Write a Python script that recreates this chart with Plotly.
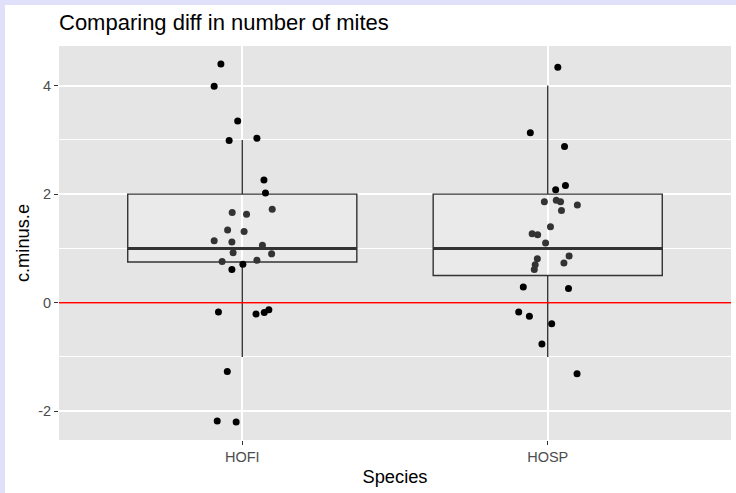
import plotly.graph_objects as go

# ---- data ----
species = ["HOFI", "HOSP"]
species_pos = [1, 2]

# boxplot statistics
box_q1 = [0.75, 0.5]
box_median = [1.0, 1.0]
box_q3 = [2.0, 2.0]
box_lower = [-1.0, -1.0]
box_upper = [3.0, 4.0]

# jittered points: horizontal jitter offset (data units) and value
hofi_jitter = [-0.070, -0.092, -0.015, -0.043, 0.048, 0.071, 0.076, 0.098, -0.033, 0.014,
               -0.048, 0.006, -0.092, -0.034, 0.066, -0.030, 0.096, -0.066, 0.002, 0.048,
               -0.034, -0.078, 0.045, 0.072, 0.087, -0.049, -0.082, -0.020]
hofi_values = [4.40, 3.99, 3.35, 2.99, 3.03, 2.26, 2.02, 1.72, 1.66, 1.63,
               1.34, 1.31, 1.14, 1.12, 1.06, 0.92, 0.90, 0.76, 0.71, 0.78,
               0.61, -0.17, -0.21, -0.18, -0.13, -1.27, -2.18, -2.20]
hosp_jitter = [0.033, -0.057, 0.055, 0.058, 0.026, -0.011, 0.028, 0.042, 0.097, 0.045,
               0.009, -0.051, -0.033, -0.007, -0.034, -0.041, -0.044, 0.070, 0.053, -0.080,
               0.068, -0.095, -0.060, 0.013, -0.019, 0.096]
hosp_values = [4.34, 3.13, 2.88, 2.16, 2.08, 1.86, 1.89, 1.86, 1.80, 1.70,
               1.40, 1.27, 1.25, 1.10, 0.81, 0.70, 0.61, 0.86, 0.73, 0.29,
               0.26, -0.17, -0.25, -0.39, -0.76, -1.31]

y_ticks = [-2, 0, 2, 4]
y_tick_labels = ["-2", "0", "2", "4"]

# ---- style ----
FONT = "Liberation Sans, Arial, Helvetica, sans-serif"
PANEL = "#e5e5e5"
BOX_W = 0.75
W, H = 736, 493
ML, MR, MT, MB = 59, 5, 46, 53
PW, PH = W - ML - MR, H - MT - MB

fig = go.Figure()

fig.add_trace(go.Box(
    x=species_pos, q1=box_q1, median=box_median, q3=box_q3,
    lowerfence=box_lower, upperfence=box_upper,
    orientation="v", width=BOX_W, whiskerwidth=0, boxpoints=False,
    fillcolor="rgba(255,255,255,0.2)", line=dict(color="#333333", width=1.4),
    hoverinfo="skip", showlegend=False,
))

groups = [(species_pos[0], hofi_jitter, hofi_values, 0), (species_pos[1], hosp_jitter, hosp_values, 1)]
for center, jit, vals, k in groups:
    xs = [center + j for j in jit]
    cols = ["#333333" if box_q1[k] <= v <= box_q3[k] else "#000000" for v in vals]
    fig.add_trace(go.Scatter(
        x=xs, y=vals, mode="markers",
        marker=dict(size=7, color=cols, line=dict(width=0)),
        hoverinfo="skip", showlegend=False,
    ))

# thick median lines (ggplot fatten)
for center, med in zip(species_pos, box_median):
    fig.add_trace(go.Scatter(
        x=[center - BOX_W / 2, center + BOX_W / 2], y=[med, med], mode="lines",
        line=dict(color="#333333", width=2.9), hoverinfo="skip", showlegend=False,
    ))

# red reference line at zero
fig.add_shape(type="line", xref="paper", x0=0, x1=1, yref="y", y0=0, y1=0,
              line=dict(color="red", width=1.5), layer="above")

# lavender page border strips (top / left)
LAV = "#e0e0fa"
fig.add_shape(type="rect", xref="paper", yref="paper",
              x0=-ML / PW - 0.01, x1=(5 - ML) / PW, y0=-MB / PH - 0.01, y1=1 + MT / PH + 0.01,
              fillcolor=LAV, line=dict(width=0), layer="below")
fig.add_shape(type="rect", xref="paper", yref="paper",
              x0=-ML / PW - 0.01, x1=1 + MR / PW + 0.01, y0=1 + (MT - 5) / PH, y1=1 + MT / PH + 0.01,
              fillcolor=LAV, line=dict(width=0), layer="below")

fig.update_layout(
    width=W, height=H,
    margin=dict(l=ML, r=MR, t=MT, b=MB, pad=0),
    paper_bgcolor="white", plot_bgcolor=PANEL,
    font=dict(family=FONT, color="#000000"),
    title=dict(text="Comparing diff in number of mites", x=ML / W, xref="container", xanchor="left",
               y=1 - 22 / H, yref="container", yanchor="middle",
               font=dict(size=22, color="#000000", family=FONT)),
    showlegend=False,
)
fig.update_xaxes(
    range=[0.4, 2.6], tickmode="array", tickvals=species_pos, ticktext=species,
    showgrid=True, gridcolor="white", gridwidth=1.6, zeroline=False, showline=False,
    ticks="outside", ticklen=4, tickwidth=1.1, tickcolor="#333333",
    tickfont=dict(size=14.5, color="#4d4d4d", family=FONT),
    title=dict(text="Species", font=dict(size=18.3, color="#000000", family=FONT), standoff=5),
    automargin=False, fixedrange=True,
)
fig.update_yaxes(
    range=[-2.53, 4.73], tickmode="array", tickvals=y_ticks, ticktext=y_tick_labels,
    showgrid=True, gridcolor="white", gridwidth=1.6, zeroline=False, showline=False,
    ticks="outside", ticklen=4, tickwidth=1.1, tickcolor="#333333",
    tickfont=dict(size=14.5, color="#4d4d4d", family=FONT),
    minor=dict(tickmode="linear", tick0=-1, dtick=2, showgrid=True, gridcolor="white",
               gridwidth=0.8, ticks=""),
    title=dict(text="c.minus.e", font=dict(size=18.3, color="#000000", family=FONT), standoff=3),
    automargin=False, fixedrange=True,
)

fig.write_html(
    "out.html",
    config={"displayModeBar": False},
    post_script="document.body.style.margin='0';document.body.style.overflow='hidden';",
)
